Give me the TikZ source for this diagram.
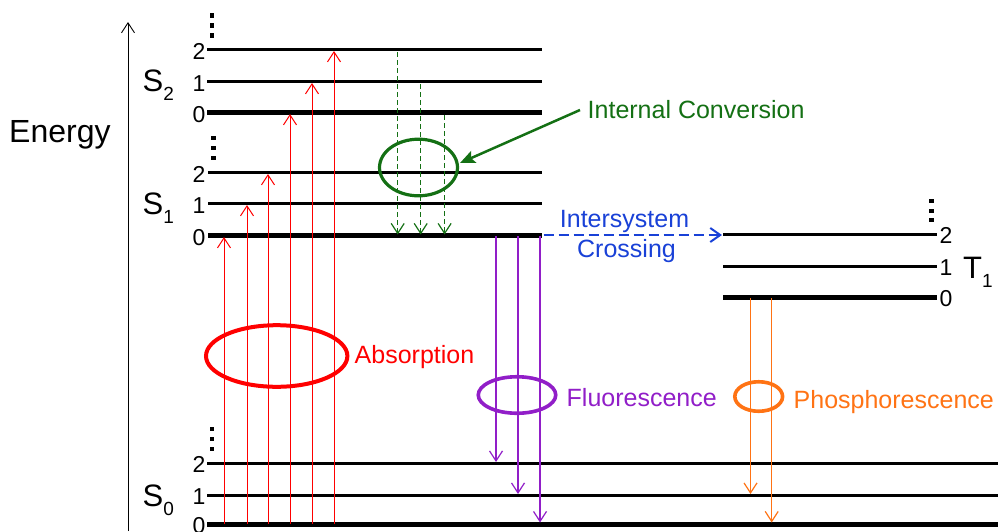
\documentclass[tikz,border=0pt]{standalone}
\usepackage{fontspec}
\setmainfont{Liberation Sans}
\usetikzlibrary{arrows.meta,shapes.geometric}
\definecolor{cred}{RGB}{255,0,0}
\definecolor{cgreen}{RGB}{20,112,20}
\definecolor{cpurple}{RGB}{145,30,200}
\definecolor{corange}{RGB}{255,115,20}
\definecolor{cblue}{RGB}{25,65,215}
\begin{document}
\begin{tikzpicture}[x=1pt,y=-1pt,
  lvl/.style={line width=3pt},
  lvlg/.style={line width=5pt},
  num/.style={font=\fontsize{23}{23}\selectfont, inner sep=0pt},
  lab/.style={font=\fontsize{25}{25}\selectfont, inner sep=0pt},
  stlab/.style={font=\fontsize{31}{31}\selectfont, inner sep=0pt, anchor=base west},
  vtip/.style={-{Straight Barb[length=10pt,width=13pt]}},
  redarrow/.style={vtip, cred, line width=1pt},
  greenarrow/.style={vtip, cgreen, line width=1.2pt, dash pattern=on 5pt off 3pt},
  purplearrow/.style={vtip, cpurple, line width=1.2pt},
  orangearrow/.style={vtip, corange, line width=1.2pt},
  oval/.style={ellipse, inner sep=0pt, outer sep=0pt},
  dotsq/.style={fill=black, minimum size=4.8pt, inner sep=0pt, draw=none, rectangle},
]
\useasboundingbox (0,0) rectangle (998,531);

% Energy axis
\coordinate (axb) at (128,531);
\coordinate (axt) at (128,22);
\draw[-{Straight Barb[length=10pt,width=13pt]}, line width=0.9pt] (axb) -- (axt);
\node[font=\fontsize{32}{32}\selectfont, inner sep=0pt, anchor=base west] (energy) at (9,142) {Energy};

% S2 levels
\foreach \n/\y/\s in {2/49/lvl,1/81/lvl,0/112/lvlg}{
  \coordinate (s2l\n) at (207,\y);
  \coordinate (s2r\n) at (542,\y);
  \draw[\s] (s2l\n) -- (s2r\n);
  \node[num, anchor=base east] (s2n\n) at (205.5,\y+10.5) {\n};
}
% S1 levels
\foreach \n/\y/\s in {2/172/lvl,1/203/lvl,0/235/lvlg}{
  \coordinate (s1l\n) at (208,\y);
  \coordinate (s1r\n) at (542,\y);
  \draw[\s] (s1l\n) -- (s1r\n);
  \node[num, anchor=base east] (s1n\n) at (205.5,\y+10.5) {\n};
}
% S0 levels
\foreach \n/\y/\s in {2/463/lvl,1/495/lvl,0/524/lvlg}{
  \coordinate (s0l\n) at (207,\y);
  \coordinate (s0r\n) at (998,\y);
  \draw[\s] (s0l\n) -- (s0r\n);
  \node[num, anchor=base east] (s0n\n) at (205.5,\y+9.5) {\n};
}
% T1 levels
\foreach \n/\y/\s in {2/234/lvl,1/266/lvl,0/297/lvlg}{
  \coordinate (t1l\n) at (723,\y);
  \coordinate (t1r\n) at (937,\y);
  \draw[\s] (t1l\n) -- (t1r\n);
  \node[num, anchor=base west] (t1n\n) at (939.5,\y+9.5) {\n};
}

% state labels
\node[stlab] (S2) at (142.5,91.7) {S\raisebox{-9pt}{\fontsize{19}{19}\selectfont 2}};
\node[stlab] (S1) at (142.5,214) {S\raisebox{-9pt}{\fontsize{19}{19}\selectfont 1}};
\node[stlab] (S0) at (142.5,506) {S\raisebox{-9pt}{\fontsize{19}{19}\selectfont 0}};
\node[stlab] (T1) at (963,278) {T\raisebox{-9pt}{\fontsize{19}{19}\selectfont 1}};

% vertical dots
\foreach \x/\a/\b/\c [count=\i] in {212/15.5/25.5/35.5, 213.5/138/148/158, 212/429/439/449, 931.7/201/211/220}{
  \node[dotsq] (dt\i a) at (\x,\a) {};
  \node[dotsq] (dt\i b) at (\x,\b) {};
  \node[dotsq] (dt\i c) at (\x,\c) {};
}

% Absorption arrows
\foreach \x/\y [count=\i] in {224/237,247/205,268/174,290/114,312/83,334/51}{
  \coordinate (ra\i) at (\x,524);
  \coordinate (rb\i) at (\x,\y);
  \draw[redarrow] (ra\i) -- (rb\i);
}
% Internal conversion arrows
\foreach \x/\y [count=\i] in {397.7/52,420.7/84,444.6/115}{
  \coordinate (ga\i) at (\x,\y);
  \coordinate (gb\i) at (\x,234.5);
  \draw[greenarrow] (ga\i) -- (gb\i);
}
% Fluorescence arrows
\foreach \x/\y [count=\i] in {496/462,518/494,540/522.5}{
  \coordinate (pa\i) at (\x,236);
  \coordinate (pb\i) at (\x,\y);
  \draw[purplearrow] (pa\i) -- (pb\i);
}
% Phosphorescence arrows
\foreach \x/\y [count=\i] in {750.5/494,771.7/522.5}{
  \coordinate (oa\i) at (\x,298);
  \coordinate (ob\i) at (\x,\y);
  \draw[orangearrow] (oa\i) -- (ob\i);
}

% ellipses
\node[oval, draw=cred, line width=4pt, minimum width=141.4pt, minimum height=61.6pt] (absell) at (276.7,356) {};
\node[oval, draw=cgreen, line width=3.2pt, minimum width=78pt, minimum height=56.6pt] (icell) at (418.5,167.5) {};
\node[oval, draw=cpurple, line width=3.6pt, minimum width=77.5pt, minimum height=36.5pt] (flell) at (517,395) {};
\node[oval, draw=corange, line width=3.6pt, minimum width=47.8pt, minimum height=29.5pt] (phell) at (758.7,396.5) {};

% labels
\node[lab, anchor=base west, text=cred] (abstxt) at (354.5,363) {Absorption};
\node[lab, anchor=base west, text=cpurple] (fltxt) at (566.5,406.5) {Fluorescence};
\node[lab, anchor=base west, text=corange] (phtxt) at (793.5,408) {Phosphorescence};
\node[lab, anchor=base west, text=cgreen] (ictxt) at (587.5,118) {Internal Conversion};
\node[lab, anchor=base, text=cblue] (isc1) at (624.5,227) {Intersystem};
\node[lab, anchor=base, text=cblue] (isc2) at (626.5,257) {Crossing};

% internal conversion pointer
\coordinate (icstart) at (580,110);
\coordinate (ictip) at (460,163);
\draw[-{Stealth[length=15pt,width=13pt,inset=3pt]}, cgreen, line width=2.5pt] (icstart) -- (ictip);

% intersystem crossing arrow
\coordinate (iscA) at (543.5,235);
\coordinate (iscB) at (722,235);
\draw[-{Straight Barb[length=10pt,width=14pt]}, cblue, line width=2pt, dash pattern=on 10pt off 5pt] (iscA) -- (iscB);
\end{tikzpicture}
\end{document}
